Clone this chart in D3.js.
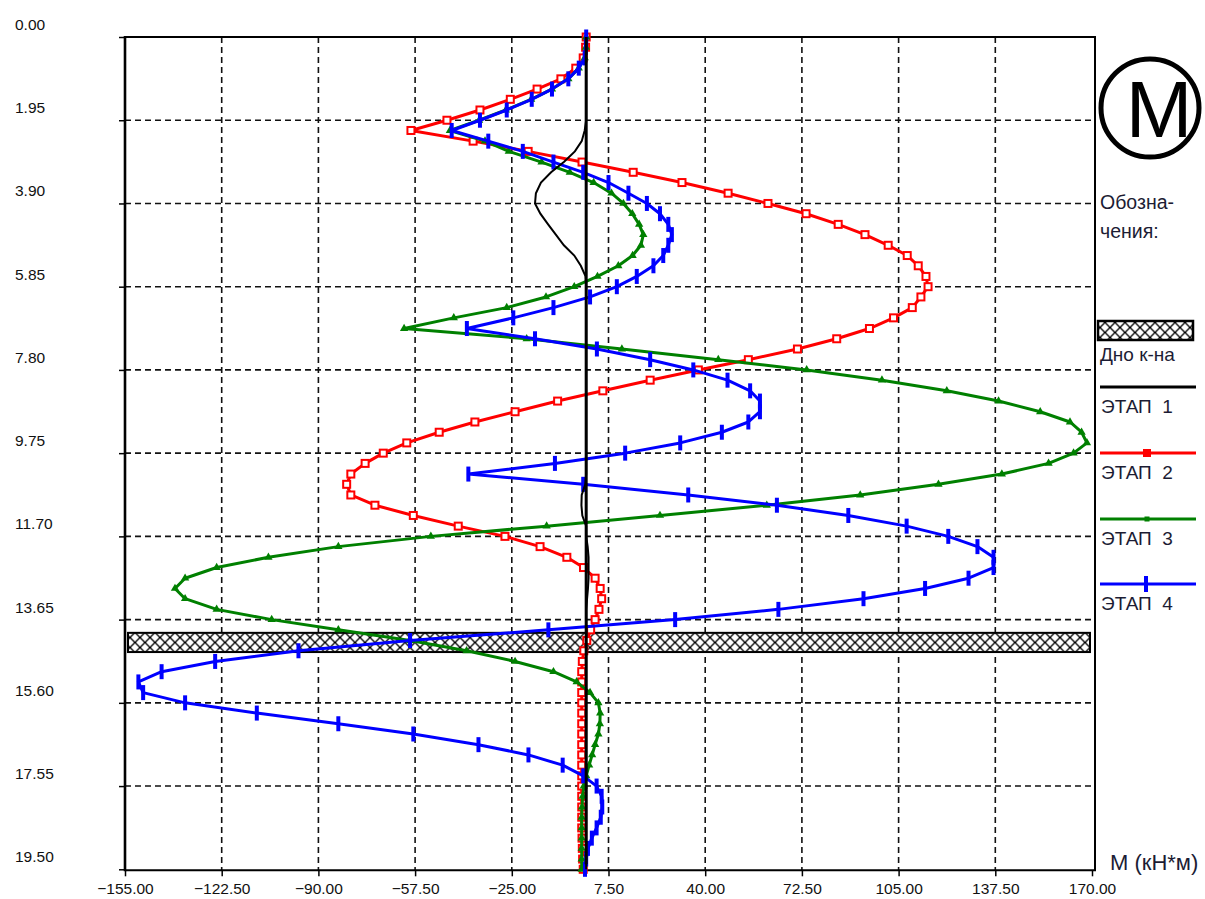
<!DOCTYPE html>
<html>
<head>
<meta charset="utf-8">
<script src="https://cdn.jsdelivr.net/npm/d3@7"></script>
<style>
body { margin: 0; background: #fff; }
svg { display: block; font-family: "Liberation Sans", Arial, sans-serif; }
</style>
</head>
<body>
<svg id="chart" width="1205" height="899"></svg>
<script>
// depth (m), one value per computed point
const depths = [0.00, 0.24, 0.49, 0.73, 0.98, 1.22, 1.46, 1.71, 1.95, 2.19,
    2.44, 2.68, 2.93, 3.17, 3.41, 3.66, 3.90, 4.14, 4.39, 4.63,
    4.88, 5.12, 5.36, 5.61, 5.85, 6.09, 6.34, 6.58, 6.83, 7.07,
    7.31, 7.56, 7.80, 8.04, 8.29, 8.53, 8.78, 9.02, 9.26, 9.51,
    9.75, 9.99, 10.24, 10.48, 10.73, 10.97, 11.21, 11.46, 11.70, 11.94,
    12.19, 12.43, 12.68, 12.92, 13.16, 13.41, 13.65, 13.89, 14.14, 14.38,
    14.63, 14.87, 15.11, 15.36, 15.60, 15.84, 16.09, 16.33, 16.58, 16.82,
    17.06, 17.31, 17.55, 17.79, 18.04, 18.28, 18.53, 18.77, 19.01, 19.26, 19.50];

// bending moment M (kN*m) per stage
const stage1 = [0, 0, 0, 0, 0, 0, 0, 0, 0, -0.5,
    -1.5, -3.8, -7.5, -11.8, -15.2, -16.9, -17.2, -15.4, -12.8, -10.2,
    -7.5, -4.0, -1.8, -0.2, 0, 0, 0, 0, 0, 0,
    0, 0, 0, 0, 0, 0, 0, 0, 0, 0,
    0, 0, 0, -0.3, -1.5, -1.6, -1.3, 0, 0, 0.5,
    0.8, 0.8, 0.8, 0.6, 0.3, 0, 0, 0, 0, 0,
    0, 0, 0, 0, 0, 0, 0, 0, 0, 0,
    0, 0, 0, 0, 0, 0, 0, 0, 0, 0, 0];
const stage2 = [0, -0.2, -1.0, -3.5, -8.5, -16.5, -25.5, -35.7, -46.8, -58.9,
    -38.0, -19.5, -1.4, 15.8, 32.2, 47.7, 61.1, 73.9, 84.7, 93.7,
    101.5, 107.9, 111.6, 114.2, 114.9, 112.5, 109.6, 103.3, 95.2, 84.2,
    71.0, 54.5, 37.7, 21.5, 5.6, -9.6, -23.9, -37.4, -49.4, -60.3,
    -68.2, -74.3, -79.1, -80.5, -79.1, -71.0, -58.1, -43.0, -27.3, -15.5,
    -6.5, -0.9, 3.0, 4.7, 5.2, 4.3, 3.0, 1.5, 0.2, -0.8,
    -1.3, -1.5, -1.5, -1.5, -1.5, -1.5, -1.5, -1.5, -1.5, -1.5,
    -1.5, -1.5, -1.5, -1.5, -1.5, -1.5, -1.5, -1.4, -1.3, -1.2, -1.0];
const stage3 = [0, -0.1, -0.5, -2.5, -6.0, -11.5, -18.5, -27.0, -36.0, -45.8,
    -34.0, -26.0, -15.0, -5.5, 2.5, 8.5, 12.5, 15.5, 17.8, 19.2,
    18.4, 15.6, 10.8, 3.8, -4.0, -13.5, -26.7, -44.5, -61.2, -20.0,
    12.0, 44.4, 74.1, 99.4, 121.2, 138.6, 152.6, 162.6, 166.5, 168.3,
    163.8, 155.4, 139.7, 118.4, 92.1, 60.7, 24.8, -13.3, -52.2, -83.3,
    -106.8, -124.2, -134.8, -138.2, -134.8, -124.2, -105.7, -83.3, -59.2, -40.2,
    -23.9, -11.0, -3.2, 1.3, 4.1, 4.7, 4.6, 4.1, 3.0, 2.0,
    1.0, 0, -0.8, -1.2, -1.4, -1.5, -1.5, -1.5, -1.5, -1.5, -1.5];
const stage4 = [0, -0.1, -0.5, -2.5, -6.0, -11.5, -18.3, -26.7, -35.7, -45.2,
    -32.9, -21.3, -11.0, -1.0, 7.5, 14.2, 20.4, 24.8, 27.6, 28.8,
    27.6, 25.9, 22.6, 17.0, 10.3, 1.3, -11.0, -24.5, -40.1, -17.2,
    3.6, 21.5, 36.0, 47.5, 55.1, 58.4, 58.4, 54.5, 45.6, 31.6,
    13.1, -10.5, -39.6, -1.0, 34.3, 64.1, 88.1, 107.7, 121.7, 131.5,
    136.9, 136.9, 128.5, 113.9, 93.2, 64.6, 29.9, -12.7, -59.2, -96.7,
    -124.7, -142.7, -150.5, -148.9, -134.8, -110.7, -83.3, -58.1, -36.2, -19.4,
    -7.9, -1.0, 3.5, 5.2, 5.4, 4.9, 3.5, 1.9, 0.6, 0.0, -0.4];

const xTicks = [-155, -122.5, -90, -57.5, -25, 7.5, 40, 72.5, 105, 137.5, 170];
const yTicks = [0, 1.95, 3.9, 5.85, 7.8, 9.75, 11.7, 13.65, 15.6, 17.55, 19.5];
const pitBand = [13.96, 14.41];   // hatched "Дно к-на" band, depth from/to
const stageNames = ['ЭТАП  1', 'ЭТАП  2', 'ЭТАП  3', 'ЭТАП  4'];
const pitName = 'Дно к-на';
const unitLabel = 'M (кН*м)';

const svg = d3.select('#chart');
const x = d3.scaleLinear().domain([-155, 170]).range([125, 1092]);
const y = d3.scaleLinear().domain([0, 19.5]).range([37, 869.3]);
const fmt = d3.format('.2f');
const plotLeft = x(-155), plotRight = x(170) + 3, plotTop = y(0), plotBottom = y(19.5) + 1;

// hatch pattern
const defs = svg.append('defs');
const pat = defs.append('pattern')
    .attr('id', 'hatch')
    .attr('patternUnits', 'userSpaceOnUse')
    .attr('width', 10).attr('height', 10)
    .attr('patternTransform', 'translate(0,7.5)');
pat.append('rect').attr('width', 10).attr('height', 10).attr('fill', '#fff');
pat.append('path')
    .attr('d', 'M0,0L10,10M10,0L0,10')
    .attr('stroke', '#000').attr('stroke-width', 1.3);

// grid
svg.append('g').selectAll('line').data(yTicks.slice(1, -1)).join('line')
    .attr('x1', plotLeft).attr('x2', plotRight)
    .attr('y1', d => y(d)).attr('y2', d => y(d))
    .attr('stroke', '#111').attr('stroke-width', 1.6).attr('stroke-dasharray', '6,4');
svg.append('g').selectAll('line').data(xTicks.slice(1, -1)).join('line')
    .attr('x1', d => x(d)).attr('x2', d => x(d))
    .attr('y1', plotTop).attr('y2', plotBottom)
    .attr('stroke', '#111').attr('stroke-width', 1.6).attr('stroke-dasharray', '6,4');

// pit bottom band
svg.append('rect')
    .attr('x', plotLeft + 3).attr('width', plotRight - plotLeft - 8)
    .attr('y', y(pitBand[0])).attr('height', y(pitBand[1]) - y(pitBand[0]))
    .attr('fill', 'url(#hatch)').attr('stroke', '#000').attr('stroke-width', 2);

// axes
const xAxis = svg.append('g')
    .attr('transform', `translate(0,${plotBottom})`)
    .call(d3.axisBottom(x).tickValues(xTicks).tickSize(6).tickSizeOuter(0).tickFormat(fmt));
const yAxis = svg.append('g')
    .attr('transform', `translate(${plotLeft},0)`)
    .call(d3.axisLeft(y).tickValues(yTicks).tickSize(6).tickSizeOuter(0).tickFormat(fmt));
[xAxis, yAxis].forEach(g => {
    g.attr('font-size', 15.5).attr('font-family', '"Liberation Sans", Arial, sans-serif');
    g.select('.domain').remove();
    g.selectAll('.tick line').attr('stroke', '#000').attr('stroke-width', 1.5);
    g.selectAll('.tick text').attr('fill', '#111');
});
xAxis.selectAll('.tick text').attr('y', 13);
yAxis.selectAll('.tick text')
    .attr('x', 15 - plotLeft).attr('dy', -7.5).attr('text-anchor', 'start');

// frame
svg.append('path')
    .attr('d', `M${plotLeft},${plotTop}H${plotRight}V${plotBottom}H${plotLeft}`)
    .attr('fill', 'none').attr('stroke', '#000').attr('stroke-width', 2);
svg.append('line')
    .attr('x1', plotLeft).attr('x2', plotLeft).attr('y1', plotTop - 1).attr('y2', plotBottom + 1)
    .attr('stroke', '#000').attr('stroke-width', 2.6);

// curves
const line = d3.line().x(d => x(d.m)).y(d => y(d.depth));
const toPoints = values => values.map((m, i) => ({ depth: depths[i], m }));

const series = [
    { values: stage2, color: '#ff0000', marker: 'square' },
    { values: stage3, color: '#008000', marker: 'triangle' },
    { values: stage4, color: '#0000ff', marker: 'bar' }
];

series.forEach(s => {
    const pts = toPoints(s.values);
    const g = svg.append('g');
    g.append('path').attr('d', line(pts))
        .attr('fill', 'none').attr('stroke', s.color).attr('stroke-width', 3)
        .attr('stroke-linejoin', 'round');
    if (s.marker === 'square') {
        g.selectAll('rect').data(pts).join('rect')
            .attr('x', d => x(d.m) - 3.5).attr('y', d => y(d.depth) - 3.5)
            .attr('width', 7).attr('height', 7)
            .attr('fill', '#fff').attr('stroke', s.color).attr('stroke-width', 2);
    } else if (s.marker === 'triangle') {
        g.selectAll('path.mk').data(pts).join('path')
            .attr('class', 'mk')
            .attr('d', d3.symbol(d3.symbolTriangle, 30))
            .attr('transform', d => `translate(${x(d.m)},${y(d.depth)})`)
            .attr('fill', s.color);
    } else {
        g.selectAll('rect').data(pts).join('rect')
            .attr('x', d => x(d.m) - 2).attr('y', d => y(d.depth) - 7.5)
            .attr('width', 4).attr('height', 15)
            .attr('fill', s.color);
    }
});

// zero line and stage 1
svg.append('line')
    .attr('x1', x(0)).attr('x2', x(0)).attr('y1', plotTop).attr('y2', plotBottom - 6)
    .attr('stroke', '#000').attr('stroke-width', 3);
svg.append('path').attr('d', line(toPoints(stage1)))
    .attr('fill', 'none').attr('stroke', '#000').attr('stroke-width', 2);

// right-hand panel
const legendText = '#1c1c34';
svg.append('circle').attr('cx', 1150).attr('cy', 108).attr('r', 49)
    .attr('fill', 'none').attr('stroke', '#000').attr('stroke-width', 5);
svg.append('text').attr('x', 1159).attr('y', 137).attr('text-anchor', 'middle')
    .attr('font-size', 80).attr('fill', '#000').text('M');

svg.append('text').attr('x', 1100).attr('y', 209).attr('font-size', 19.5)
    .attr('fill', legendText).text('Обозна-');
svg.append('text').attr('x', 1100).attr('y', 238).attr('font-size', 19.5)
    .attr('fill', legendText).text('чения:');

svg.append('rect').attr('x', 1098).attr('y', 321).attr('width', 95).attr('height', 19)
    .attr('fill', 'url(#hatch)').attr('stroke', '#000').attr('stroke-width', 2.5);
svg.append('text').attr('x', 1100).attr('y', 361).attr('font-size', 19)
    .attr('fill', legendText).text(pitName);

const legendItems = [
    { name: stageNames[0], color: '#000', marker: null, ly: 387 },
    { name: stageNames[1], color: '#ff0000', marker: 'square', ly: 453 },
    { name: stageNames[2], color: '#008000', marker: 'small', ly: 519 },
    { name: stageNames[3], color: '#0000ff', marker: 'bar', ly: 584 }
];
legendItems.forEach(it => {
    const g = svg.append('g');
    g.append('line').attr('x1', 1100).attr('x2', 1196).attr('y1', it.ly).attr('y2', it.ly)
        .attr('stroke', it.color).attr('stroke-width', 3);
    if (it.marker === 'square') {
        g.append('rect').attr('x', 1143).attr('y', it.ly - 4).attr('width', 8).attr('height', 8)
            .attr('fill', it.color);
    } else if (it.marker === 'small') {
        g.append('rect').attr('x', 1144.5).attr('y', it.ly - 2.5).attr('width', 5).attr('height', 5)
            .attr('fill', it.color);
    } else if (it.marker === 'bar') {
        g.append('rect').attr('x', 1144).attr('y', it.ly - 8).attr('width', 4).attr('height', 16)
            .attr('fill', it.color);
    }
    g.append('text').attr('x', 1101).attr('y', it.ly + 26).attr('font-size', 19)
        .attr('fill', legendText).style('white-space', 'pre').text(it.name);
});

svg.append('text').attr('x', 1110).attr('y', 870).attr('font-size', 22)
    .attr('fill', legendText).text(unitLabel);
</script>
</body>
</html>
